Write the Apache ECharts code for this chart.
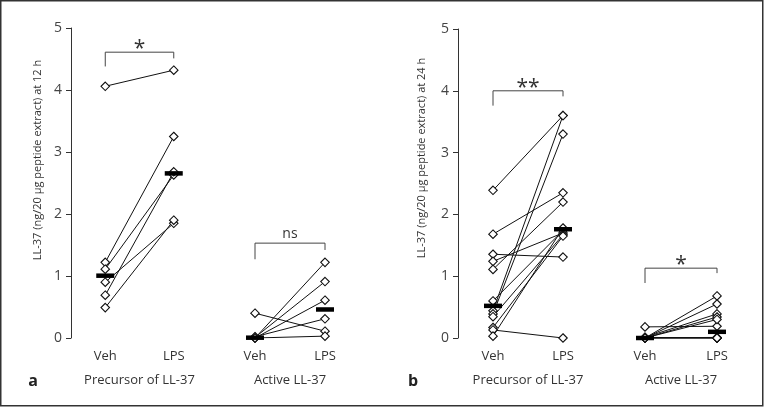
<!DOCTYPE html>
<html>
<head>
<meta charset="utf-8">
<script src="https://cdn.jsdelivr.net/npm/echarts@6/dist/echarts.min.js"></script>
<style>html,body{margin:0;padding:0;background:#fff}#c{width:764px;height:407px}</style>
</head>
<body>
<div id="c"></div>
<script>
// ---- data ----
const conditions = ['Veh', 'LPS'];
const groupNames = ['Precursor of LL-37', 'Active LL-37', 'Precursor of LL-37', 'Active LL-37'];
const yTicks = [0, 1, 2, 3, 4, 5];

// panel a, 12 h
const precursor12Veh = [4.06, 1.22, 1.11, 0.90, 0.69, 0.49];
const precursor12LPS = [4.32, 3.25, 2.63, 1.85, 2.68, 1.90];
const active12Veh = [0.40, 0.00, 0.01, 0.00, 0.02, 0.00];
const active12LPS = [0.11, 1.22, 0.91, 0.61, 0.31, 0.03];

// panel b, 24 h
const precursor24Veh = [2.39, 1.68, 1.355, 1.24, 1.11, 0.60, 0.44, 0.39, 0.345, 0.17, 0.13, 0.03];
const precursor24LPS = [3.60, 2.35, 1.31, 1.70, 2.20, 1.74, 3.60, 3.30, 1.67, 1.65, 0.00, 1.78];
const active24Veh = [0.18, 0.00, 0.00, 0.01, 0.00, 0.00, 0.00, 0.01, 0.00, 0.00, 0.00, 0.00];
const active24LPS = [0.19, 0.68, 0.55, 0.39, 0.34, 0.30, 0.00, 0.00, 0.01, 0.00, 0.00, 0.00];

// significance brackets: [top, left end, right end, label]
const brackets = [
  [4.61, 4.38, 4.51, '*'],
  [1.53, 1.27, 1.42, 'ns'],
  [4.00, 3.76, 3.91, '**'],
  [1.13, 0.89, 1.05, '*']
];

const panels = [
  [precursor12Veh, precursor12LPS],
  [active12Veh, active12LPS],
  [precursor24Veh, precursor24LPS],
  [active24Veh, active24LPS]
];

function median(a) {
  const s = a.slice().sort((x, y) => x - y);
  const n = s.length;
  return n % 2 ? s[(n - 1) / 2] : (s[n / 2 - 1] + s[n / 2]) / 2;
}

const FONT = '"Open Sans", "Noto Sans", sans-serif';
const TXT = '#333';

const grids = [
  {left: 71, top: 28, width: 137, height: 310},
  {left: 220, top: 28, width: 140, height: 310},
  {left: 458, top: 29, width: 140, height: 309},
  {left: 609, top: 29, width: 144, height: 309}
];

const xAxes = grids.map((g, i) => ({
  type: 'category', gridIndex: i, data: conditions, boundaryGap: true,
  axisLine: {show: false}, axisTick: {show: false},
  axisLabel: {margin: 12, fontSize: 13, color: TXT, fontFamily: FONT},
  name: groupNames[i], nameLocation: 'middle', nameGap: 36,
  nameTextStyle: {fontSize: 13, color: TXT, fontFamily: FONT}
}));

const yAxes = grids.map((g, i) => ({
  type: 'value', gridIndex: i, min: yTicks[0], max: yTicks[yTicks.length - 1], interval: 1,
  show: i % 2 === 0,
  axisLine: {show: true, lineStyle: {color: '#333', width: 1}},
  axisTick: {show: true, length: 5, lineStyle: {color: '#333'}},
  axisLabel: {margin: 9, fontSize: 14, color: '#444', fontFamily: FONT},
  splitLine: {show: false}
}));

const series = [];
panels.forEach((p, gi) => {
  const [veh, lps] = p;
  veh.forEach((v, k) => {
    series.push({
      type: 'line', xAxisIndex: gi, yAxisIndex: gi,
      data: [v, lps[k]],
      symbol: 'diamond', symbolSize: 8.5, showSymbol: true,
      itemStyle: {color: '#fff', borderColor: '#111', borderWidth: 1.1},
      lineStyle: {color: '#111', width: 1},
      silent: true, animation: false, z: 2
    });
  });
  series.push({
    type: 'scatter', xAxisIndex: gi, yAxisIndex: gi,
    data: [[0, median(veh)], [1, median(lps)]],
    symbol: 'rect', symbolSize: [18, 4.5],
    itemStyle: {color: '#000', opacity: 1}, silent: true, animation: false, z: 5
  });
  const b = brackets[gi];
  series.push({
    type: 'custom', xAxisIndex: gi, yAxisIndex: gi,
    data: [[0, b[0]]], silent: true, animation: false, z: 3,
    renderItem: function (params, api) {
      const pT0 = api.coord([0, b[0]]), pT1 = api.coord([1, b[0]]);
      const pL = api.coord([0, b[1]]), pR = api.coord([1, b[2]]);
      const isStar = b[3].indexOf('*') >= 0;
      return {
        type: 'group',
        children: [
          {type: 'polyline', shape: {points: [pL, pT0, pT1, pR]},
           style: {stroke: '#444', lineWidth: 1, fill: null}},
          {type: 'text', style: {
            text: b[3], x: (pT0[0] + pT1[0]) / 2, y: pT0[1] - (isStar ? 3 : 9),
            align: 'center', verticalAlign: 'middle',
            fontSize: isStar ? 21 : 14, fontFamily: FONT, fill: TXT}}
        ]
      };
    }
  });
});

const chart = echarts.init(document.getElementById('c'), null, {renderer: 'canvas'});
chart.setOption({
  animation: false,
  backgroundColor: '#fff',
  grid: grids,
  xAxis: xAxes,
  yAxis: yAxes,
  series: series,
  graphic: [
    {type: 'rect', shape: {x: 0.75, y: 0.75, width: 762, height: 405}, style: {fill: null, stroke: '#333', lineWidth: 1.5}, silent: true},
    {type: 'text', x: 38, y: 160, rotation: Math.PI / 2, style: {text: 'LL-37 (ng/20 µg peptide extract) at 12 h', align: 'center', verticalAlign: 'middle', fontSize: 11, fontFamily: FONT, fill: TXT}},
    {type: 'text', x: 422, y: 158, rotation: Math.PI / 2, style: {text: 'LL-37 (ng/20 µg peptide extract) at 24 h', align: 'center', verticalAlign: 'middle', fontSize: 11, fontFamily: FONT, fill: TXT}},
    {type: 'text', x: 33, y: 381, style: {text: 'a', align: 'center', verticalAlign: 'middle', fontSize: 16, fontWeight: 'bold', fontFamily: FONT, fill: '#222'}},
    {type: 'text', x: 413, y: 381, style: {text: 'b', align: 'center', verticalAlign: 'middle', fontSize: 16, fontWeight: 'bold', fontFamily: FONT, fill: '#222'}}
  ]
});
</script>
</body>
</html>
